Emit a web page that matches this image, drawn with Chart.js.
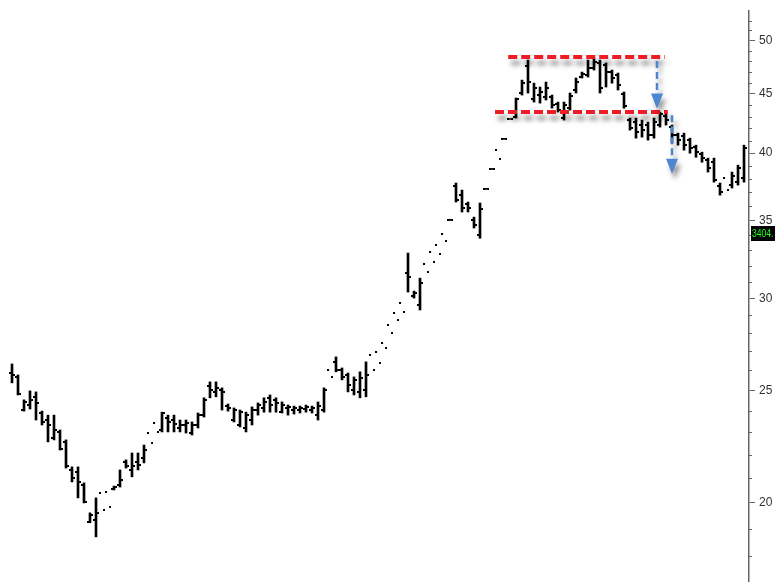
<!DOCTYPE html>
<html><head><meta charset="utf-8">
<script src="https://cdn.jsdelivr.net/npm/chart.js@4/dist/chart.umd.min.js"></script>
<style>html,body{margin:0;padding:0;background:#fff;}#wrap{width:775px;height:582px;}</style>
</head><body><div id="wrap"><canvas id="c" width="775" height="582"></canvas></div>
<script>
// ---- data (one entry per bar, in order) ----
const opens = [
25.87,25.67,24.04,24.28,24.68,23.90,23.57,22.75,23.02,22.57,
21.35,21.27,20.72,19.27,19.34,20.40,20.44,20.56,20.72,21.69,
21.35,21.69,21.87,22.97,23.43,23.11,23.66,23.57,23.20,23.34,
22.97,23.34,23.80,25.22,24.92,25.02,24.23,23.57,23.34,23.20,
23.57,24.04,24.14,24.63,24.53,23.94,24.14,24.04,24.04,24.09,
24.04,23.80,24.04,26.03,26.45,26.03,25.77,25.02,24.92,25.02,
26.81,26.97,27.46,28.45,29.13,29.71,31.53,30.13,29.60,32.10,
32.87,33.33,34.06,35.05,37.47,36.80,36.15,35.02,34.00,37.28,
38.78,40.23,41.15,42.80,42.95,45.05,47.52,44.52,44.87,44.70,
44.70,44.07,42.87,43.72,45.32,46.50,46.68,47.34,47.81,47.62,
46.96,46.68,44.96,42.70,42.53,42.28,42.28,41.45,42.28,43.03,
42.11,41.45,41.37,41.04,40.47,39.91,39.44,39.28,37.47,38.06,
37.54,37.76,38.06];
const highs = [
26.34,25.77,24.53,24.97,24.92,23.99,23.80,23.80,23.11,22.66,
21.48,21.48,20.81,19.61,20.20,null,null,20.68,21.35,21.78,
22.08,22.08,22.43,null,null,23.94,23.80,23.80,23.57,23.57,
23.48,23.90,24.63,25.42,25.42,25.12,24.33,24.14,24.04,23.94,
24.19,24.38,24.63,24.77,24.63,24.43,24.28,24.23,24.23,24.28,
24.23,24.43,25.12,null,26.71,26.13,25.87,25.67,25.93,26.45,
null,null,null,null,null,null,32.81,30.43,31.22,null,
null,null,null,35.08,37.69,37.17,36.30,35.23,36.23,37.30,
38.80,null,41.18,42.83,44.61,46.22,48.09,45.94,45.59,46.04,
44.87,44.25,44.25,45.05,46.41,46.96,48.09,48.28,48.09,47.81,
47.15,46.87,45.14,42.87,42.87,42.70,42.53,42.87,43.38,43.29,
42.28,41.61,41.61,41.20,40.63,40.07,39.60,39.60,37.69,null,
38.52,39.05,40.63];
const lows = [
25.37,24.77,23.99,24.09,23.57,23.34,22.57,22.66,22.21,21.43,
20.85,20.20,20.00,19.23,18.70,null,null,20.52,20.64,21.43,
21.06,21.35,21.65,null,null,23.02,23.02,23.02,23.02,22.97,
22.88,23.20,23.71,24.63,24.68,24.04,23.99,23.48,23.25,23.02,
23.34,23.80,23.94,23.94,23.94,23.90,23.80,23.85,23.90,23.94,
23.90,23.57,23.94,null,25.93,25.52,24.92,24.77,24.63,24.68,
null,null,null,null,null,null,30.37,30.01,29.31,null,
null,null,null,35.00,36.30,35.59,35.59,34.48,33.79,37.22,
38.72,null,41.10,42.76,42.87,44.87,45.05,44.25,44.16,44.43,
43.72,43.38,42.70,43.55,45.05,46.41,46.50,47.15,45.05,45.59,
45.94,45.32,43.72,41.86,41.20,41.28,41.04,41.20,42.11,42.28,
40.79,40.63,40.23,39.99,39.67,39.28,38.52,37.76,36.80,null,
37.32,37.54,37.76];
const closes = [
25.76,24.82,24.43,24.53,24.38,23.48,23.34,23.11,22.25,21.52,
21.01,20.85,20.04,19.53,19.61,19.73,19.84,20.64,20.93,21.52,
21.52,21.56,22.21,22.52,23.02,23.90,23.48,23.39,23.34,23.43,
23.34,23.80,24.53,25.02,25.12,24.92,24.14,24.04,23.94,23.80,
24.04,24.28,24.43,24.28,24.38,24.28,24.19,24.14,24.14,24.19,
24.14,24.23,25.02,25.67,26.03,25.67,25.27,25.52,25.62,25.77,
26.03,26.39,27.19,28.01,28.73,29.19,31.29,30.31,30.92,31.60,
32.23,32.74,33.59,35.00,36.44,35.87,35.87,34.68,35.80,37.24,
38.74,39.52,41.12,42.78,44.52,45.94,46.04,45.50,45.14,45.50,
43.98,43.55,43.98,44.78,46.04,46.78,47.34,47.90,45.50,46.96,
46.41,45.77,43.89,42.03,41.70,41.86,41.45,42.53,43.20,42.70,
41.45,41.04,40.63,40.39,40.07,39.60,38.82,37.91,37.02,37.17,
38.21,38.82,40.39];

const yMinorTicks = [18,19,21,22,23,24,26,27,28,29,31,32,33,34,36,37,38,39,41,42,43,44,46,47,48,49,51,52];
const yTickLabels = [20,25,30,35,40,45,50];

// annotations (bar-index / price units)
const resistance = {from: 82.7, to: 108.8, price: 48.4};
const support    = {from: 80.5, to: 109.3, price: 43.4};
const arrowX     = [107.5, 110.0];
const arrowFrom  = [48.0, 43.1];
const arrowTo    = [43.7, 38.4];
const lastLabel  = {price: 34.04, text: '3404.'};

// ---- tick images for open (left) / close (right) ----
function tickImg(left){
  const c = document.createElement('canvas'); c.width = 6; c.height = 2;
  const g = c.getContext('2d'); g.fillStyle = '#000';
  g.fillRect(left ? 0 : 4, 0, 2, 2); return c;
}
const openImg = tickImg(true), closeImg = tickImg(false);

const hlData = [];
highs.forEach((h, i) => { if (h !== null && lows[i] !== null) hlData.push({x: i, y: [lows[i], h]}); });

const annPlugin = {
  id: 'ann',
  afterDatasetsDraw(chart){
    const {ctx, scales:{x, y}} = chart;
    ctx.save();
    function dashLine(l){
      const py = Math.round(y.getPixelForValue(l.price));
      const x0 = x.getPixelForValue(l.from), x1 = x.getPixelForValue(l.to);
      ctx.save();
      ctx.setLineDash([9,4]); ctx.lineWidth = 4; ctx.strokeStyle = '#ee1c24';
      ctx.shadowColor = 'rgba(0,0,0,0.45)'; ctx.shadowBlur = 5; ctx.shadowOffsetX = 3; ctx.shadowOffsetY = 6;
      ctx.beginPath(); ctx.moveTo(x0, py); ctx.lineTo(x1, py); ctx.stroke();
      ctx.restore();
    }
    dashLine(resistance); dashLine(support);
    arrowX.forEach((ax, k) => {
      const px = x.getPixelForValue(ax);
      const y0 = y.getPixelForValue(arrowFrom[k]), y1 = y.getPixelForValue(arrowTo[k]);
      const headH = 15, headW = 6;
      ctx.save();
      ctx.shadowColor = 'rgba(0,0,0,0.4)'; ctx.shadowBlur = 5; ctx.shadowOffsetX = 3; ctx.shadowOffsetY = 6;
      ctx.strokeStyle = '#4a86d2'; ctx.fillStyle = '#4a86d2'; ctx.lineWidth = 2.5;
      ctx.setLineDash([7,4]);
      ctx.beginPath(); ctx.moveTo(px, y0); ctx.lineTo(px, y1 - headH); ctx.stroke();
      ctx.setLineDash([]);
      ctx.beginPath(); ctx.moveTo(px - headW, y1 - headH); ctx.lineTo(px + headW, y1 - headH); ctx.lineTo(px, y1); ctx.closePath(); ctx.fill();
      ctx.restore();
    });
    ctx.restore();
  },
  afterDraw(chart){
    const {ctx, scales:{y}, chartArea} = chart;
    ctx.save();
    ctx.strokeStyle = '#666'; ctx.lineWidth = 1;
    yMinorTicks.forEach(v => {
      const py = Math.round(y.getPixelForValue(v)) + 0.5;
      ctx.beginPath(); ctx.moveTo(chartArea.right, py); ctx.lineTo(chartArea.right + 3, py); ctx.stroke();
    });
    const py = Math.round(y.getPixelForValue(lastLabel.price));
    ctx.fillStyle = '#000';
    ctx.fillRect(chartArea.right + 2, py - 8, 26, 15);
    ctx.fillStyle = '#22ff22';
    ctx.font = '11px "Liberation Sans", Arial, sans-serif';
    ctx.textBaseline = 'middle'; ctx.textAlign = 'left';
    ctx.translate(chartArea.right + 3, py);
    ctx.scale(0.78, 1);
    ctx.fillText(lastLabel.text, 0, 0);
    ctx.restore();
  }
};

new Chart(document.getElementById('c'), {
  data: {
    datasets: [
      {type: 'bar', data: hlData, backgroundColor: '#000', borderWidth: 0, barThickness: 2, grouped: false},
      {type: 'line', data: opens.map((v, i) => ({x: i, y: v})), showLine: false, pointStyle: openImg, pointRadius: 3, pointHoverRadius: 3},
      {type: 'line', data: closes.map((v, i) => ({x: i, y: v})), showLine: false, pointStyle: closeImg, pointRadius: 3, pointHoverRadius: 3}
    ]
  },
  options: {
    responsive: false, animation: false, devicePixelRatio: 1,
    layout: {autoPadding: false, padding: {top: 11, left: 0, right: 0, bottom: 0}},
    plugins: {legend: {display: false}, tooltip: {enabled: false}},
    events: [],
    scales: {
      x: {type: 'linear', min: -2, max: 122.8333, display: false, offset: false},
      y: {
        type: 'logarithmic', position: 'right', min: 17.1, max: 53,
        afterBuildTicks: s => { s.ticks = yTickLabels.map(v => ({value: v})); },
        afterFit: s => { s.width = 26; s.paddingTop = 0; s.paddingBottom = 0; },
        border: {display: true, color: '#666', width: 1.5},
        grid: {drawOnChartArea: false, drawTicks: true, tickLength: 6, tickWidth: 1, tickColor: '#666'},
        ticks: {
          autoSkip: false, maxRotation: 0, padding: 4, color: '#333',
          font: {family: '"Liberation Sans Narrow", "Liberation Sans", Arial, sans-serif', size: 12},
          callback: v => String(v)
        }
      }
    }
  },
  plugins: [annPlugin]
});
</script></body></html>
